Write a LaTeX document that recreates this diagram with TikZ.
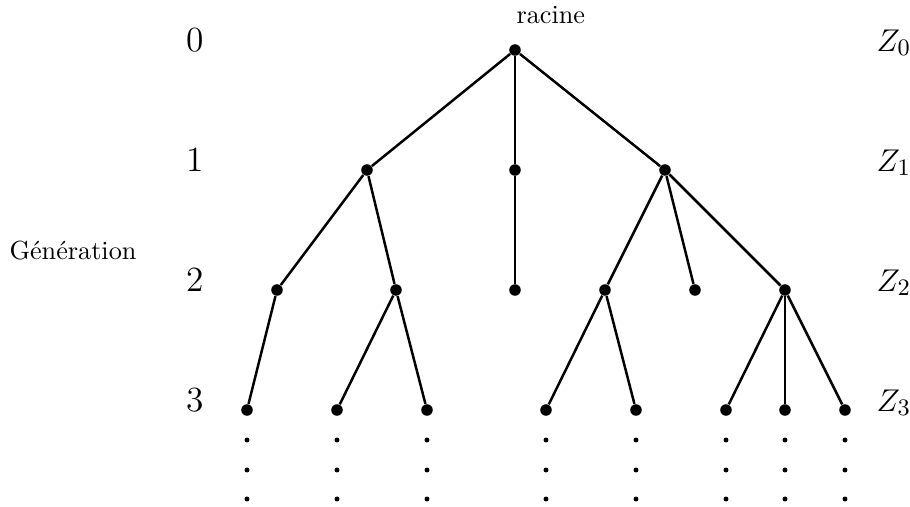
\documentclass[tikz,border=0pt]{standalone}
\begin{document}
\begin{tikzpicture}[x=0.3817pt,y=-0.3817pt,
  vtx/.style={circle,fill=black,inner sep=0pt,minimum size=4.4pt},
  pt/.style={circle,fill=black,inner sep=0pt,minimum size=1.9pt},
  edge/.style={line width=0.95pt},
  gen/.style={anchor=base,inner sep=0pt,font=\fontsize{13.5}{16}\selectfont},
  zl/.style={anchor=base west,inner sep=0pt,font=\fontsize{13}{16}\selectfont}]
\useasboundingbox (0,0) rectangle (910,506);
% nodes
\node[vtx] (r) at (515,50) {};
\node[vtx] (a) at (367,170) {};
\node[vtx] (b) at (515,170) {};
\node[vtx] (c) at (665,170) {};
\node[vtx] (a1) at (277,290) {};
\node[vtx] (a2) at (396,290) {};
\node[vtx] (b1) at (515,290) {};
\node[vtx] (c1) at (605,290) {};
\node[vtx] (c2) at (695,290) {};
\node[vtx] (c3) at (785,290) {};
\node[vtx] (d1) at (247,410) {};
\node[vtx] (d2) at (337,410) {};
\node[vtx] (d3) at (427,410) {};
\node[vtx] (d4) at (546,410) {};
\node[vtx] (d5) at (636,410) {};
\node[vtx] (d6) at (726,410) {};
\node[vtx] (d7) at (785,410) {};
\node[vtx] (d8) at (845,410) {};
% edges
\draw[edge] (r) -- (a); \draw[edge] (r) -- (b); \draw[edge] (r) -- (c);
\draw[edge] (a) -- (a1); \draw[edge] (a) -- (a2);
\draw[edge] (b) -- (b1);
\draw[edge] (c) -- (c1); \draw[edge] (c) -- (c2); \draw[edge] (c) -- (c3);
\draw[edge] (a1) -- (d1);
\draw[edge] (a2) -- (d2); \draw[edge] (a2) -- (d3);
\draw[edge] (c1) -- (d4); \draw[edge] (c1) -- (d5);
\draw[edge] (c3) -- (d6); \draw[edge] (c3) -- (d7); \draw[edge] (c3) -- (d8);
% ellipsis dots
\foreach \x [count=\i] in {247,337,427,546,636,726,785,845} {
  \foreach \y [count=\j] in {440,470,499} {
    \node[pt] (e\i\j) at (\x,\y) {};
  }
}
% labels
\node[anchor=base west,inner sep=0pt] (rac) at (516,23) {racine};
\node[anchor=base west,inner sep=0pt] (gen) at (9,259) {Génération};
\node[gen] (g0) at (195,51) {0};
\node[gen] (g1) at (195,171) {1};
\node[gen] (g2) at (195,291) {2};
\node[gen] (g3) at (195,411) {3};
\node[zl] (z0) at (876,51) {$Z_0$};
\node[zl] (z1) at (876,171) {$Z_1$};
\node[zl] (z2) at (876,291) {$Z_2$};
\node[zl] (z3) at (876,411) {$Z_3$};
\end{tikzpicture}
\end{document}
